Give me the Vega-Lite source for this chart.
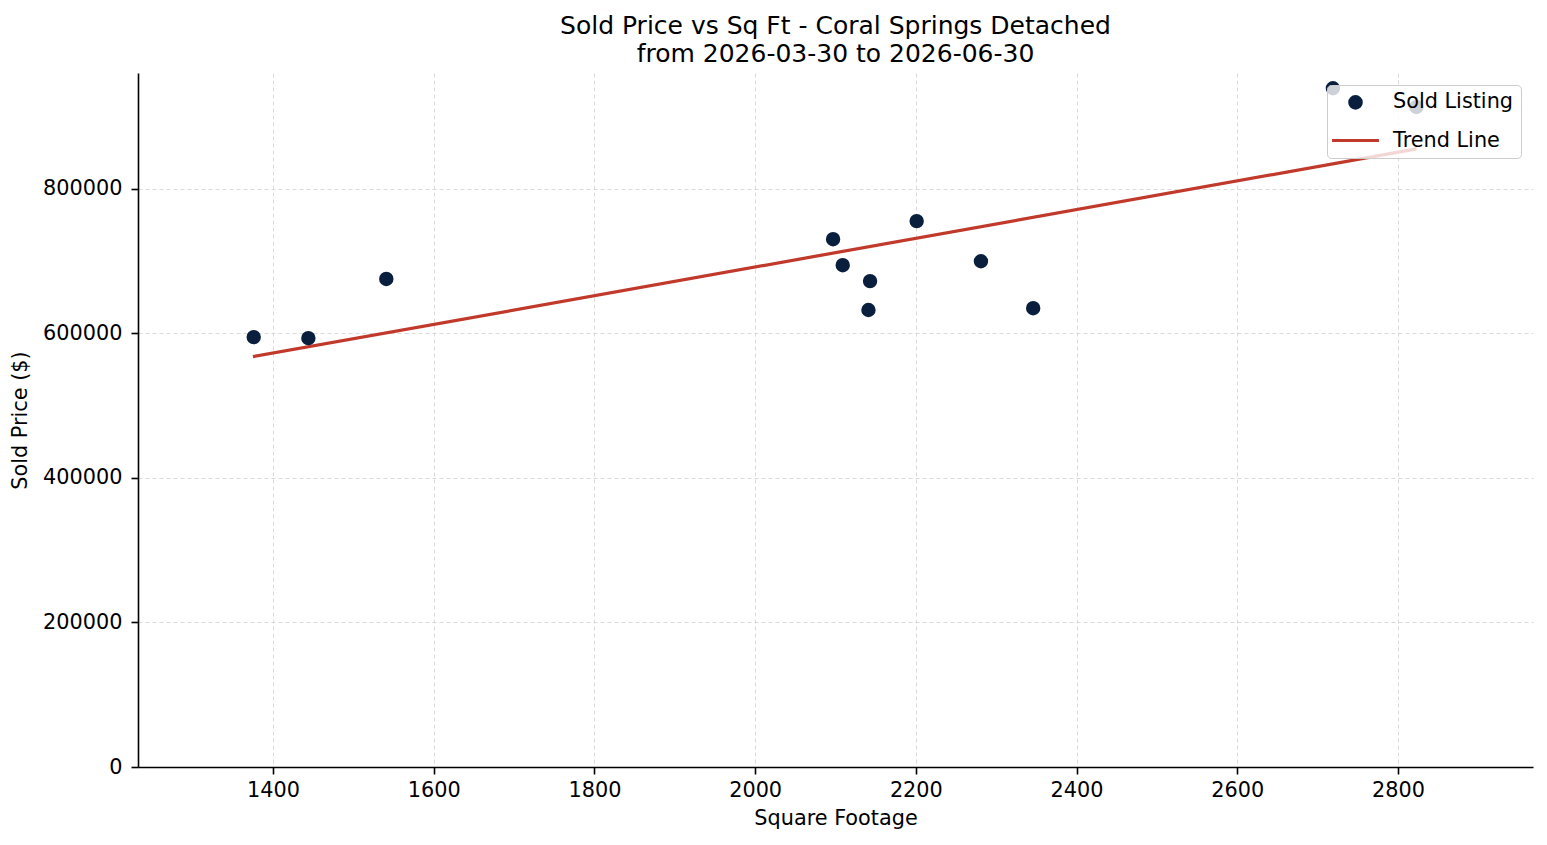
{
  "$schema": "https://vega.github.io/schema/vega-lite/v6.json",
  "width": 1395,
  "height": 694,
  "autosize": {"type": "none"},
  "padding": {"left": 138, "top": 73, "right": 14, "bottom": 78},
  "background": "white",
  "title": {
    "text": ["Sold Price vs Sq Ft - Coral Springs Detached", "from 2026-03-30 to 2026-06-30"],
    "font": "DejaVu Sans",
    "fontSize": 25,
    "fontWeight": "normal",
    "color": "black",
    "anchor": "middle",
    "lineHeight": 28,
    "offset": 6
  },
  "config": {
    "view": {"stroke": null},
    "axis": {
      "domainColor": "black",
      "domainWidth": 1.6,
      "tickColor": "black",
      "tickWidth": 1.6,
      "tickSize": 7,
      "labelFont": "DejaVu Sans",
      "labelFontSize": 20.8,
      "labelColor": "black",
      "titleFont": "DejaVu Sans",
      "titleFontSize": 20.8,
      "titleFontWeight": "normal",
      "titleColor": "black",
      "grid": true,
      "gridColor": "#d0d0d0",
      "gridWidth": 0.8,
      "gridDash": [4, 3],
      "gridOpacity": 1
    },
    "legend": {
      "title": null,
      "orient": "none",
      "legendX": 1189,
      "legendY": 12,
      "fillColor": "rgba(255,255,255,0.8)",
      "strokeColor": "#cccccc",
      "cornerRadius": 4,
      "padding": 7,
      "labelFont": "DejaVu Sans",
      "labelFontSize": 20.8,
      "labelColor": "black",
      "symbolStrokeWidth": 3.2,
      "symbolOpacity": 1,
      "symbolOffset": -4,
      "labelOffset": 12,
      "rowPadding": -16.5
    }
  },
  "datasets": {
    "sold": [
      {"sqft": 1376, "price": 595000, "series": "Sold Listing"},
      {"sqft": 1444, "price": 593500, "series": "Sold Listing"},
      {"sqft": 1541, "price": 675500, "series": "Sold Listing"},
      {"sqft": 2097, "price": 730500, "series": "Sold Listing"},
      {"sqft": 2109, "price": 694500, "series": "Sold Listing"},
      {"sqft": 2143, "price": 672500, "series": "Sold Listing"},
      {"sqft": 2141, "price": 632500, "series": "Sold Listing"},
      {"sqft": 2201, "price": 755500, "series": "Sold Listing"},
      {"sqft": 2281, "price": 700000, "series": "Sold Listing"},
      {"sqft": 2346, "price": 635000, "series": "Sold Listing"},
      {"sqft": 2719, "price": 939400, "series": "Sold Listing"},
      {"sqft": 2823, "price": 913500, "series": "Sold Listing"}
    ],
    "trend": [
      {"sqft": 1375, "price": 567900, "series": "Trend Line"},
      {"sqft": 2823, "price": 855400, "series": "Trend Line"}
    ]
  },
  "layer": [
    {
      "data": {"name": "trend"},
      "mark": {"type": "line", "strokeWidth": 3.2, "clip": false, "color": "#c0392b"},
      "encoding": {
        "x": {"field": "sqft", "type": "quantitative"},
        "y": {"field": "price", "type": "quantitative"}
      }
    },
    {
      "data": {"name": "sold"},
      "mark": {"type": "point", "filled": true, "strokeWidth": 3, "opacity": 1},
      "encoding": {
        "x": {
          "field": "sqft", "type": "quantitative",
          "scale": {"domain": [1232, 2968], "nice": false, "zero": false},
          "axis": {"title": "Square Footage", "values": [1400, 1600, 1800, 2000, 2200, 2400, 2600, 2800], "format": "d", "labelPadding": 6, "titlePadding": 9}
        },
        "y": {
          "field": "price", "type": "quantitative",
          "scale": {"domain": [0, 960500], "nice": false},
          "axis": {"title": "Sold Price ($)", "values": [0, 200000, 400000, 600000, 800000], "format": "d", "labelPadding": 9, "titlePadding": 12}
        },
        "color": {
          "field": "series", "type": "nominal",
          "scale": {"domain": ["Sold Listing", "Trend Line"], "range": ["#0a1f3d", "#c0392b"]}
        },
        "stroke": {
          "field": "series", "type": "nominal",
          "scale": {"domain": ["Sold Listing", "Trend Line"], "range": ["#0a1f3d", "#c0392b"]}
        },
        "shape": {
          "field": "series", "type": "nominal",
          "scale": {"domain": ["Sold Listing", "Trend Line"], "range": ["circle", "stroke"]}
        },
        "size": {
          "field": "series", "type": "nominal",
          "scale": {"type": "ordinal", "domain": ["Sold Listing", "Trend Line"], "range": [130, 2200]}
        }
      }
    }
  ]
}
